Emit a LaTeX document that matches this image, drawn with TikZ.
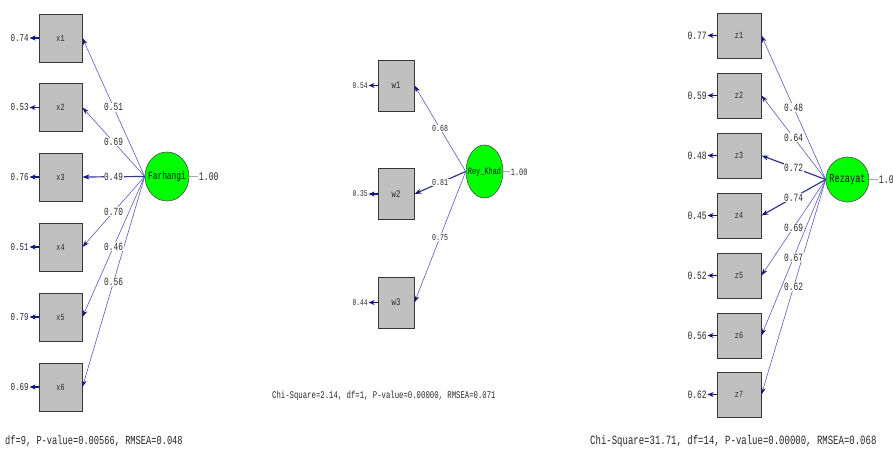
\documentclass[tikz,border=0pt]{standalone}
\usepackage{fontspec}
\usepackage{graphicx}
\setmonofont{Liberation Mono}
\usetikzlibrary{arrows.meta,shapes.geometric}
\newcommand{\tallt}[1]{\scalebox{1}[1.4]{#1}}
\newcommand{\fs}[1]{\ttfamily\fontsize{#1}{#1}\selectfont}
\definecolor{boxgray}{RGB}{192,192,192}
\definecolor{boxline}{RGB}{55,55,55}
\definecolor{latgreen}{RGB}{0,255,0}
\definecolor{thinblue}{RGB}{90,90,195}
\definecolor{navyblue}{RGB}{20,20,125}
\definecolor{greyline}{RGB}{170,170,170}
\definecolor{txt}{RGB}{40,40,40}
\tikzset{
 obsbox/.style={draw=boxline, fill=boxgray, line width=0.9pt, inner sep=0pt, text=txt},
 latent/.style={ellipse, draw=black!70, fill=latgreen, line width=0.6pt, inner sep=0pt},
 latlabel/.style={text=black!90!green, inner sep=0pt},
 loadline/.style={draw=thinblue, line width=0.6pt, -{Stealth[length=7pt,width=4.5pt,color=navyblue]}},
 loadthick/.style={draw=navyblue!85, line width=1.2pt, -{Stealth[length=7pt,width=5pt,color=navyblue]}},
 errline/.style={draw=navyblue, line width=1.1pt, -{Stealth[length=6pt,width=5pt]}},
 lbl/.style={fill=white, inner sep=0.6pt, text=txt},
 fixline/.style={draw=greyline, line width=0.7pt},
 caption/.style={inner sep=0pt, text=txt}
}
\begin{document}
\begin{tikzpicture}[x=1pt,y=-1pt]
\useasboundingbox (0,0) rectangle (893,450);
\clip (0,0) rectangle (893,450);
\fill[white] (0,0) rectangle (893,450);

% ---------------- left panel ----------------
\node[latent, minimum width=44pt, minimum height=49pt] (farh) at (167,176.5) {};
\node[latlabel, font=\fs{7.9}] (farht) at (farh.center) {\tallt{Farhangi}};
\node[lbl, anchor=west, font=\fs{8.3}] (farhv) at (198,177) {\tallt{1.00}};
\draw[fixline] (farh.east) -- (farh.east -| farhv.west);
\foreach \i/\y in {1/38,2/107.5,3/177,4/247,5/317,6/387}
  \node[obsbox, minimum width=43pt, minimum height=48pt, font=\fs{6.7}] (x\i) at (60.5,\y) {\tallt{x\i}};
\foreach \i/\e in {1/0.74,2/0.53,3/0.76,4/0.51,5/0.79,6/0.69}{
  \node[lbl, anchor=east, font=\fs{7.5}] (ex\i) at ([xshift=-9pt]x\i.west) {\tallt{\e}};
  \draw[errline] (x\i.west) -- (ex\i.east);
}
\foreach \i in {1,2,4,5,6}
  \draw[loadline] (farh.west) -- (x\i.east);
\draw[loadthick] (farh.west) -- (x3.east);
\foreach \i/\l in {1/0.51,2/0.69,3/0.49,4/0.70,5/0.46,6/0.56}
  \path (farh.west) -- (x\i.east) node[lbl, pos=0.5, font=\fs{7.8}] (lx\i) {\tallt{\l}};

% ---------------- middle panel ----------------
\node[latent, minimum width=37pt, minimum height=53pt] (rey) at (484.5,171.5) {};
\node[latlabel, font=\fs{6.9}] (reyt) at (rey.center) {\tallt{Rey\_Khad}};
\node[lbl, anchor=west, font=\fs{7}] (reyv) at (510,172) {\tallt{1.00}};
\draw[fixline] (rey.east) -- (rey.east -| reyv.west);
\foreach \i/\y in {1/85.5,2/194,3/302.5}
  \node[obsbox, minimum width=36pt, minimum height=51pt, font=\fs{7.2}] (w\i) at (396,\y) {\tallt{w\i}};
\foreach \i/\e in {1/0.54,2/0.35,3/0.44}{
  \node[lbl, anchor=east, font=\fs{6.3}] (ew\i) at ([xshift=-9pt]w\i.west) {\tallt{\e}};
  \draw[errline] (w\i.west) -- (ew\i.east);
}
\draw[loadline] (rey.west) -- (w1.east);
\draw[loadthick] (rey.west) -- (w2.east);
\draw[loadline] (rey.west) -- (w3.east);
\foreach \i/\l in {1/0.68,2/0.81,3/0.75}
  \path (rey.west) -- (w\i.east) node[lbl, pos=0.5, font=\fs{6.6}] (lw\i) {\tallt{\l}};
\node[caption, anchor=west, font=\fs{7.3}] (capM) at (272,396) {\tallt{Chi-Square=2.14, df=1, P-value=0.00000, RMSEA=0.071}};

% ---------------- right panel ----------------
\node[latent, minimum width=43pt, minimum height=45pt] (rez) at (847.5,179.5) {};
\node[latlabel, font=\fs{8.6}] (rezt) at (rez.center) {\tallt{Rezayat}};
\node[lbl, anchor=west, font=\fs{8.3}] (rezv) at (878,180) {\tallt{1.00}};
\draw[fixline] (rez.east) -- (rez.east -| rezv.west);
\foreach \i/\y in {1/35.5,2/95.5,3/155.5,4/215.5,5/275.5,6/335.5,7/394.5}
  \node[obsbox, minimum width=44pt, minimum height=45pt, font=\fs{6.7}] (z\i) at (739,\y) {\tallt{z\i}};
\foreach \i/\e in {1/0.77,2/0.59,3/0.48,4/0.45,5/0.52,6/0.56,7/0.62}{
  \node[lbl, anchor=east, font=\fs{8}] (ez\i) at ([xshift=-9pt]z\i.west) {\tallt{\e}};
  \draw[errline] (z\i.west) -- (ez\i.east);
}
\foreach \i in {1,2,5,6,7}
  \draw[loadline] (rez.west) -- (z\i.east);
\draw[loadthick] (rez.west) -- (z3.east);
\draw[loadthick] (rez.west) -- (z4.east);
\foreach \i/\l in {1/0.48,2/0.64,3/0.72,4/0.74,5/0.69,6/0.67,7/0.62}
  \path (rez.west) -- (z\i.east) node[lbl, pos=0.5, font=\fs{7.9}] (lz\i) {\tallt{\l}};

% ---------------- captions ----------------
\node[caption, anchor=west, font=\fs{8.7}] (capL) at (5,441) {\tallt{df=9, P-value=0.00566, RMSEA=0.048}};
\node[caption, anchor=west, font=\fs{9}] (capR) at (590,441) {\tallt{Chi-Square=31.71, df=14, P-value=0.00000, RMSEA=0.068}};
\end{tikzpicture}
\end{document}
